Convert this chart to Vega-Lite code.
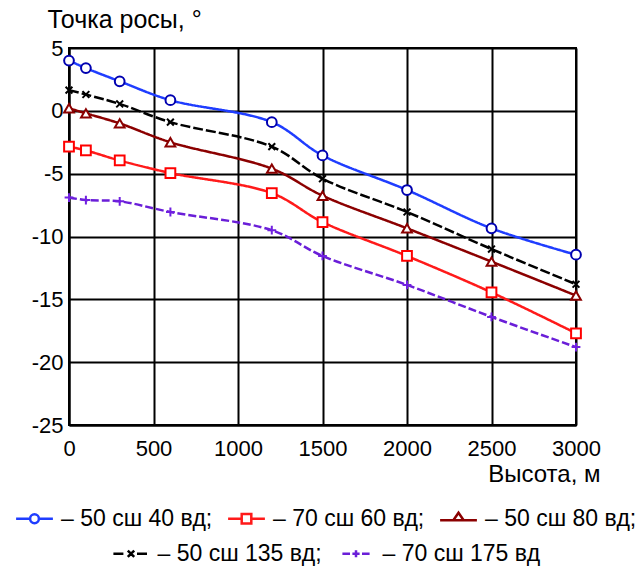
{
  "$schema": "https://vega.github.io/schema/vega-lite/v6.json",
  "width": 507,
  "height": 377,
  "autosize": {"type": "none"},
  "padding": {"left": 69, "top": 48, "right": 64, "bottom": 143},
  "background": "white",
  "data": {
    "values": [
      {"series": "– 50 сш 40 вд;", "h": 0, "t": 4.0},
      {"series": "– 50 сш 40 вд;", "h": 100, "t": 3.4},
      {"series": "– 50 сш 40 вд;", "h": 300, "t": 2.35},
      {"series": "– 50 сш 40 вд;", "h": 600, "t": 0.85},
      {"series": "– 50 сш 40 вд;", "h": 1200, "t": -0.9},
      {"series": "– 50 сш 40 вд;", "h": 1500, "t": -3.55},
      {"series": "– 50 сш 40 вд;", "h": 2000, "t": -6.3},
      {"series": "– 50 сш 40 вд;", "h": 2500, "t": -9.35},
      {"series": "– 50 сш 40 вд;", "h": 3000, "t": -11.45},
      {"series": "– 70 сш 60 вд;", "h": 0, "t": -2.85},
      {"series": "– 70 сш 60 вд;", "h": 100, "t": -3.15},
      {"series": "– 70 сш 60 вд;", "h": 300, "t": -3.95},
      {"series": "– 70 сш 60 вд;", "h": 600, "t": -4.95},
      {"series": "– 70 сш 60 вд;", "h": 1200, "t": -6.55},
      {"series": "– 70 сш 60 вд;", "h": 1500, "t": -8.85},
      {"series": "– 70 сш 60 вд;", "h": 2000, "t": -11.55},
      {"series": "– 70 сш 60 вд;", "h": 2500, "t": -14.45},
      {"series": "– 70 сш 60 вд;", "h": 3000, "t": -17.7},
      {"series": "– 50 сш 80 вд;", "h": 0, "t": 0.2},
      {"series": "– 50 сш 80 вд;", "h": 100, "t": -0.2},
      {"series": "– 50 сш 80 вд;", "h": 300, "t": -1.0},
      {"series": "– 50 сш 80 вд;", "h": 600, "t": -2.5},
      {"series": "– 50 сш 80 вд;", "h": 1200, "t": -4.6},
      {"series": "– 50 сш 80 вд;", "h": 1500, "t": -6.75},
      {"series": "– 50 сш 80 вд;", "h": 2000, "t": -9.35},
      {"series": "– 50 сш 80 вд;", "h": 2500, "t": -12.0},
      {"series": "– 50 сш 80 вд;", "h": 3000, "t": -14.7},
      {"series": "– 50 сш 135 вд;", "h": 0, "t": 1.65},
      {"series": "– 50 сш 135 вд;", "h": 100, "t": 1.3},
      {"series": "– 50 сш 135 вд;", "h": 300, "t": 0.55},
      {"series": "– 50 сш 135 вд;", "h": 600, "t": -0.9},
      {"series": "– 50 сш 135 вд;", "h": 1200, "t": -2.85},
      {"series": "– 50 сш 135 вд;", "h": 1500, "t": -5.4},
      {"series": "– 50 сш 135 вд;", "h": 2000, "t": -8.05},
      {"series": "– 50 сш 135 вд;", "h": 2500, "t": -11.0},
      {"series": "– 50 сш 135 вд;", "h": 3000, "t": -13.8},
      {"series": "– 70 сш 175 вд", "h": 0, "t": -6.9},
      {"series": "– 70 сш 175 вд", "h": 100, "t": -7.1},
      {"series": "– 70 сш 175 вд", "h": 300, "t": -7.2},
      {"series": "– 70 сш 175 вд", "h": 600, "t": -8.05},
      {"series": "– 70 сш 175 вд", "h": 1200, "t": -9.5},
      {"series": "– 70 сш 175 вд", "h": 1500, "t": -11.55},
      {"series": "– 70 сш 175 вд", "h": 2000, "t": -13.85},
      {"series": "– 70 сш 175 вд", "h": 2500, "t": -16.4},
      {"series": "– 70 сш 175 вд", "h": 3000, "t": -18.8}
    ]
  },
  "encoding": {
    "x": {
      "field": "h",
      "type": "quantitative",
      "scale": {"domain": [0, 3000], "nice": false},
      "axis": {
        "values": [0, 500, 1000, 1500, 2000, 2500, 3000],
        "format": "d",
        "labelPadding": 13,
        "labelFlush": false,
        "title": "Высота, м",
        "titleAlign": "right",
        "titleAnchor": "end",
        "titleBaseline": "alphabetic",
        "titleX": 531,
        "titleY": 56,
        "titleFontSize": 24
      }
    },
    "y": {
      "field": "t",
      "type": "quantitative",
      "scale": {"domain": [-25, 5], "nice": false},
      "axis": {
        "values": [-25, -20, -15, -10, -5, 0, 5],
        "labelPadding": 6,
        "labelExpr": "datum.value < 0 ? '-' + abs(datum.value) : '' + datum.value",
        "title": "Точка росы, °",
        "titleAngle": 0,
        "titleAlign": "left",
        "titleAnchor": "start",
        "titleBaseline": "alphabetic",
        "titleX": -22,
        "titleY": -21,
        "titleFontSize": 25
      }
    }
  },
  "layer": [
    {
      "mark": {"type": "line", "interpolate": "catmull-rom", "strokeWidth": 2.5},
      "encoding": {
        "stroke": {
          "field": "series",
          "type": "nominal",
          "scale": {
            "domain": ["– 50 сш 40 вд;", "– 70 сш 60 вд;", "– 50 сш 80 вд;", "– 50 сш 135 вд;", "– 70 сш 175 вд"],
            "range": ["#1f3dff", "#ff1a1a", "#8b0000", "#000000", "#6a1ed8"]
          },
          "legend": {
            "title": null,
            "values": ["– 50 сш 40 вд;", "– 70 сш 60 вд;", "– 50 сш 80 вд;"],
            "encode": {
              "symbols": {
                "update": {
                  "shape": {"signal": "datum.value === '– 50 сш 40 вд;' ? 'M-4.6,0H-1.1M1.1,0H4.6M1.1,0A1.1,1.1,0,1,1,-1.1,0A1.1,1.1,0,1,1,1.1,0Z' : datum.value === '– 70 сш 60 вд;' ? 'M-4.6,0H-1.2M1.2,0H4.6M-1.2,-1.2H1.2V1.2H-1.2Z' : 'M-4.6,0.4H-1.3M1.3,0.4H4.6M0,-1.5L1.3,0.4H-1.3Z'"},
                  "fill": {"value": "white"},
                  "strokeWidth": {"value": 2.5},
                  "strokeDash": {"value": []},
                  "opacity": {"value": 1}
                }
              }
            }
          }
        },
        "strokeDash": {
          "field": "series",
          "type": "nominal",
          "sort": null,
          "scale": {
            "range": [[1, 0], [1, 0], [1, 0], [10, 3], [8, 3]]
          },
          "legend": {
            "title": null,
            "values": ["– 50 сш 135 вд;", "– 70 сш 175 вд"],
            "encode": {
              "symbols": {
                "update": {
                  "shape": {"signal": "datum.value === '– 50 сш 135 вд;' ? 'M-4.4,0H-1.5M1.5,0H4.4M-0.8,-0.8L0.8,0.8M-0.8,0.8L0.8,-0.8' : 'M-3.4,0H-1.5M1.5,0H3.4M-0.9,0H0.9M0,-0.9V0.9'"},
                  "stroke": {"signal": "datum.value === '– 50 сш 135 вд;' ? '#000000' : '#6a1ed8'"},
                  "fill": {"value": "white"},
                  "strokeWidth": {"value": 2.5},
                  "strokeDash": {"value": []},
                  "opacity": {"value": 1}
                }
              }
            }
          }
        }
      }
    },
    {
      "mark": {"type": "point", "filled": false, "fill": "white", "size": 95, "strokeWidth": 2, "opacity": 1},
      "encoding": {
        "color": {
          "field": "series",
          "type": "nominal",
          "sort": null,
          "scale": {"range": ["#0000b0", "#ff0000", "#8b0000", "#000000", "#7020e0"]},
          "legend": null
        },
        "shape": {
          "field": "series",
          "type": "nominal",
          "sort": null,
          "scale": {"range": ["circle", "square", "triangle-up", "M-0.7,-0.7L0.7,0.7M-0.7,0.7L0.7,-0.7", "M-0.9,0H0.9M0,-0.9V0.9"]},
          "legend": null
        }
      }
    }
  ],
  "config": {
    "view": {"stroke": "black", "strokeWidth": 2},
    "axis": {
      "grid": true,
      "gridColor": "black",
      "gridWidth": 2,
      "gridOpacity": 1,
      "domainColor": "black",
      "domainWidth": 2,
      "ticks": false,
      "labelFont": "Liberation Sans",
      "labelFontSize": 22,
      "labelColor": "black",
      "titleFont": "Liberation Sans",
      "titleFontSize": 23,
      "titleFontWeight": "normal",
      "titleColor": "black"
    },
    "legend": {
      "orient": "bottom",
      "direction": "horizontal",
      "symbolSize": 64,
      "symbolOffset": 14,
      "labelOffset": 15,
      "labelFont": "Liberation Sans",
      "labelFontSize": 23,
      "labelColor": "black",
      "labelLimit": 400,
      "columnPadding": 8,
      "padding": 0,
      "offset": 21,
      "layout": {"bottom": {"anchor": "middle", "direction": "vertical", "center": true, "margin": 11}}
    }
  }
}
